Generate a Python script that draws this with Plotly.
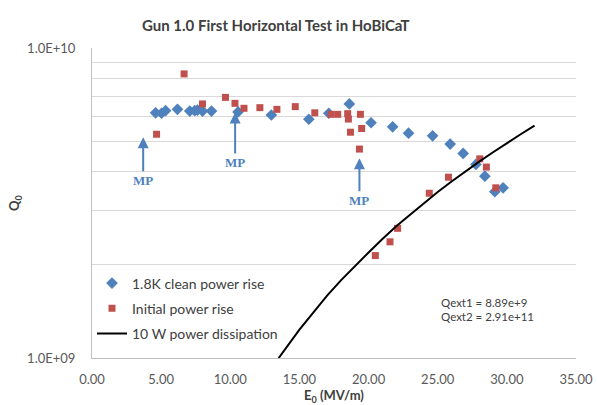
import math
import plotly.graph_objects as go

# ---- data ----
clean_e = [4.60, 5.03, 5.32, 6.18, 7.07, 7.43, 7.63, 7.99, 8.64, 10.56, 12.97, 15.68,
           17.12, 18.61, 20.18, 21.74, 22.89, 24.63, 25.90, 26.84, 27.76, 28.41, 29.13, 29.73]
clean_q = [6.18e9, 6.16e9, 6.28e9, 6.34e9, 6.26e9, 6.28e9, 6.30e9, 6.26e9, 6.26e9, 6.22e9, 6.08e9, 5.89e9,
           6.16e9, 6.60e9, 5.74e9, 5.57e9, 5.31e9, 5.21e9, 4.90e9, 4.57e9, 4.21e9, 3.86e9, 3.44e9, 3.54e9]

init_e = [4.67, 6.66, 7.99, 9.65, 10.34, 10.99, 12.14, 13.37, 14.70, 16.11, 17.29, 17.77,
          18.49, 18.54, 19.41, 18.69, 19.50, 19.34, 20.49, 21.55, 22.10, 24.39, 25.78, 28.04, 28.52, 29.20]
init_q = [5.27e9, 8.25e9, 6.60e9, 6.93e9, 6.63e9, 6.39e9, 6.42e9, 6.34e9, 6.47e9, 6.18e9, 6.11e9, 6.11e9,
          6.14e9, 5.90e9, 6.11e9, 5.35e9, 5.50e9, 4.72e9, 2.14e9, 2.37e9, 2.62e9, 3.40e9, 3.83e9, 4.39e9, 4.13e9, 3.54e9]

p10_e = [13.5, 14.0, 15.0, 16.0, 17.0, 18.0, 19.0, 20.0, 21.0, 22.0, 23.0, 24.0, 25.0,
         26.0, 27.0, 28.0, 29.0, 30.0, 31.0, 32.0]
p10_q = [1.00e9, 1.075e9, 1.235e9, 1.40e9, 1.59e9, 1.78e9, 1.98e9, 2.19e9, 2.42e9, 2.66e9, 2.90e9,
         3.16e9, 3.43e9, 3.71e9, 4.00e9, 4.30e9, 4.61e9, 4.94e9, 5.27e9, 5.62e9]

x_ticks = [0, 5, 10, 15, 20, 25, 30, 35]
x_tick_text = ["0.00", "5.00", "10.00", "15.00", "20.00", "25.00", "30.00", "35.00"]
y_ticks = [1e9, 2e9, 3e9, 4e9, 5e9, 6e9, 7e9, 8e9, 9e9, 1e10]
y_tick_text = ["1.0E+09", "", "", "", "", "", "", "", "", "1.0E+10"]

mp_e = [3.70, 10.35, 19.34]
mp_q = [5.15e9, 6.19e9, 4.41e9]
mp_offset = [43, 50, 42]

qext_lines = ["Qext1 = 8.89e+9", "Qext2 = 2.91e+11"]
qext_e = [25.1, 25.1]
qext_q = [1.51e9, 1.366e9]

FONT = "Lato"
BLUE = "#4f81bd"
RED = "#c0504d"

fig = go.Figure()
fig.add_trace(go.Scatter(x=clean_e, y=clean_q, mode="markers", name="1.8K clean power rise",
                         marker=dict(symbol="diamond", size=9, color=BLUE), legendgroup="a"))
fig.add_trace(go.Scatter(x=init_e, y=init_q, mode="markers", name="Initial power rise",
                         marker=dict(symbol="square", size=7, color=RED), legendgroup="b"))
fig.add_trace(go.Scatter(x=p10_e, y=p10_q, mode="lines", name="10 W power dissipation",
                         line=dict(color="black", width=2), legendgroup="c"))

annotations = []
for e, q, off in zip(mp_e, mp_q, mp_offset):
    annotations.append(dict(x=e, y=math.log10(q), xref="x", yref="y", text="<b>MP</b>", showarrow=True,
                            ax=0, ay=off, arrowhead=2, arrowsize=1.1, arrowwidth=2, arrowcolor=BLUE,
                            font=dict(family="Liberation Serif", size=13, color=BLUE)))
for t, e, q in zip(qext_lines, qext_e, qext_q):
    annotations.append(dict(x=e, y=math.log10(q), xref="x", yref="y", text=t, showarrow=False,
                            xanchor="left", font=dict(family=FONT, size=11.5, color="#404040")))

fig.update_layout(
    width=597, height=405,
    margin=dict(l=92, r=21, t=48, b=47),
    paper_bgcolor="white", plot_bgcolor="white",
    title=dict(text="<b>Gun 1.0 First Horizontal Test in HoBiCaT</b>", x=0.462, xanchor="center",
               y=0.936, yanchor="middle", font=dict(family=FONT, size=15, color="#404040")),
    font=dict(family=FONT, size=12, color="#595959"),
    showlegend=True,
    legend=dict(x=0.0, y=0.292, xanchor="left", yanchor="top", bgcolor="rgba(0,0,0,0)",
                font=dict(family=FONT, size=14, color="#404040"), tracegroupgap=4),
    annotations=annotations,
)
fig.update_xaxes(range=[0, 35], tickvals=x_ticks, ticktext=x_tick_text, showgrid=False,
                 showline=True, linecolor="#bfbfbf", linewidth=1, ticks="", zeroline=False,
                 ticklabelstandoff=9, tickfont=dict(size=13, color="#595959"), automargin=False,
                 title=dict(text="<b>E<sub>0</sub> (MV/m)</b>", standoff=18,
                            font=dict(size=13, color="#404040")))
fig.update_yaxes(type="log", range=[9, 10], tickvals=y_ticks, ticktext=y_tick_text, showgrid=True,
                 gridcolor="#d9d9d9", gridwidth=1, showline=True, linecolor="#bfbfbf", linewidth=1,
                 ticks="", zeroline=False, ticklabelstandoff=13, automargin=False,
                 tickfont=dict(size=13, color="#595959"),
                 title=dict(text="<b>Q<sub>0</sub></b>", standoff=4, font=dict(size=13, color="#404040")))

fig.write_html("out.html", config={"displayModeBar": False},
               post_script="document.body.style.margin='0px';")
